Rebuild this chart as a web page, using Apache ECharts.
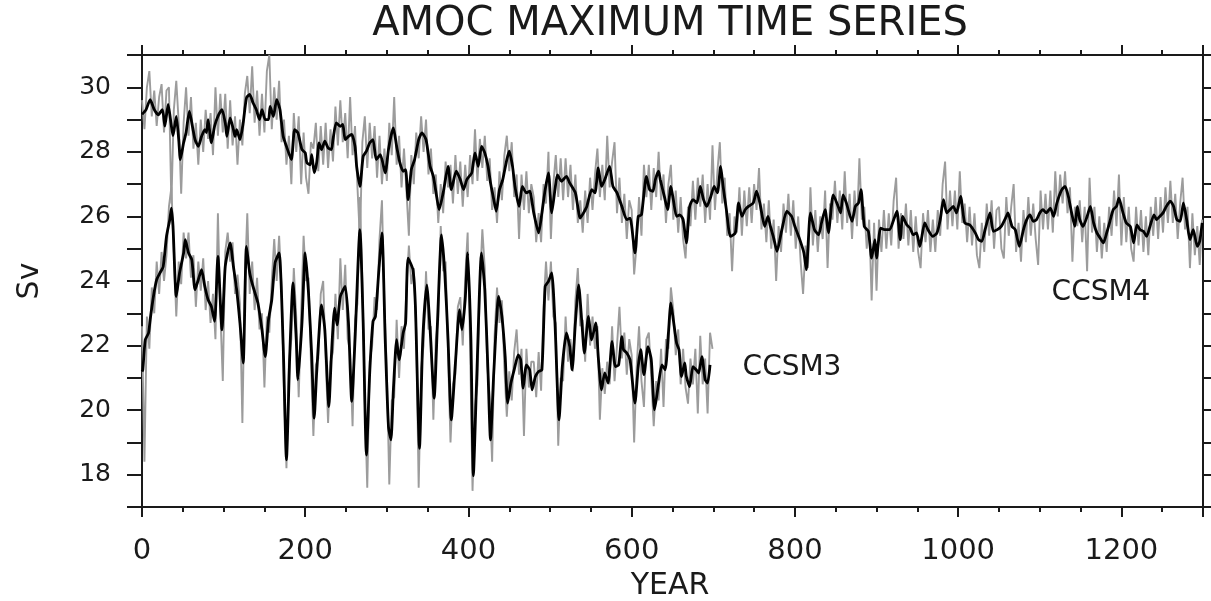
<!DOCTYPE html>
<html>
<head>
  <meta charset="utf-8">
  <title>AMOC maximum time series</title>
  <script src="https://cdn.jsdelivr.net/npm/echarts@6/dist/echarts.min.js"></script>
  <style>
    body { margin: 0; background: #fff; }
  </style>
</head>
<body>
<div id="main" style="width: 1211px;height:601px;"></div>
<script type="text/javascript">
  // raw (near annual) values, one every rawStep years starting at year 0
  var rawStep = 3;
  var ccsm4Raw = [
    29.6,28.7,30.0,30.5,29.1,29.9,28.8,29.7,30.1,28.6,
    29.9,30.0,26.4,29.3,30.2,28.9,26.7,28.9,30.0,28.5,
    29.7,28.1,28.9,27.6,29.0,28.0,29.3,28.4,29.2,27.9,
    30.0,28.5,29.8,28.6,29.8,28.1,29.6,28.2,29.1,27.6,
    29.0,28.2,29.8,30.35,29.2,30.65,28.9,29.9,28.5,29.8,
    28.6,30.5,31.0,28.7,30.0,29.0,30.2,28.3,29.0,27.6,
    28.5,27.0,29.2,28.0,29.1,27.0,28.6,27.2,26.7,28.3,
    28.1,28.9,27.4,28.8,27.6,28.9,27.5,28.7,27.7,29.4,
    28.2,29.6,28.3,29.2,27.8,29.7,27.9,28.8,26.9,25.3,
    28.3,29.1,27.5,28.9,27.8,28.8,27.2,28.5,27.0,28.1,
    27.1,28.9,27.9,29.7,27.6,28.5,26.9,28.1,26.8,25.4,
    27.9,27.0,28.6,27.8,29.1,28.0,29.0,27.3,28.1,26.7,
    27.3,25.8,27.0,26.1,27.7,26.9,27.6,26.4,27.9,26.7,
    27.7,26.3,27.6,26.6,27.9,27.0,28.7,27.1,28.4,27.5,
    28.5,27.1,27.8,26.2,26.9,25.8,27.4,26.5,27.9,28.5,
    27.4,28.3,26.6,27.3,25.3,27.3,26.2,27.4,26.1,27.0,
    26.6,25.2,26.1,25.2,27.0,26.4,28.0,25.3,27.0,27.9,
    26.6,27.8,26.5,27.8,26.6,27.6,26.2,27.3,25.8,26.5,
    25.5,26.8,25.8,27.2,26.2,27.3,28.1,26.6,27.6,26.5,
    28.5,26.9,27.7,28.3,26.1,27.2,25.8,26.7,25.3,26.5,
    26.2,24.2,25.1,26.6,25.4,27.6,26.6,27.6,26.2,27.5,
    26.6,28.0,26.5,27.3,25.8,27.0,27.6,25.9,26.8,25.5,
    26.6,25.3,24.7,26.3,25.7,27.1,25.9,27.2,26.3,27.3,
    25.8,27.0,25.9,28.2,26.2,27.4,28.3,26.4,27.2,25.4,
    26.1,24.3,26.0,25.5,26.9,25.4,26.8,25.7,26.9,25.8,
    27.0,26.2,27.5,25.6,26.4,25.2,26.5,25.0,25.9,24.0,
    25.7,24.9,26.4,25.5,26.7,25.4,26.5,25.0,26.0,24.6,
    23.6,25.1,24.4,26.9,25.1,26.2,24.9,26.0,25.3,26.8,
    24.4,26.4,25.9,27.1,25.8,26.8,25.6,27.4,25.8,26.7,
    25.3,26.8,25.7,27.8,25.9,26.3,25.0,25.9,23.4,25.8,
    23.7,25.9,24.9,26.2,25.0,26.1,25.1,26.5,27.2,25.0,
    26.1,25.3,26.4,25.1,26.2,24.9,26.0,24.9,24.4,26.1,
    25.2,26.2,24.9,25.9,24.9,26.2,25.4,27.0,27.7,25.6,
    26.8,25.7,26.8,25.6,27.4,25.8,26.4,25.2,26.3,25.1,
    26.1,24.8,24.4,25.8,24.9,26.4,25.4,26.5,25.0,26.2,
    26.3,25.0,24.7,26.6,25.4,26.3,27.0,24.9,25.8,24.6,
    26.2,25.2,26.6,25.4,26.4,25.3,24.5,26.8,25.6,26.7,
    25.6,26.8,25.5,27.4,26.0,27.3,26.4,27.4,26.1,26.9,
    24.6,26.3,25.7,26.5,25.2,26.3,24.3,27.2,25.5,26.3,
    24.9,26.0,24.7,25.8,24.9,26.3,25.4,26.8,25.7,27.3,
    25.1,26.6,25.2,26.3,25.0,24.6,26.3,25.1,26.2,24.9,
    26.0,24.8,26.3,25.4,26.6,25.3,26.6,25.5,26.9,25.8,
    27.1,25.8,26.7,25.3,26.4,27.2,25.6,26.3,24.4,26.1,
    24.8,25.7,24.5,25.9
  ];
  var ccsm3Raw = [
    22.6,18.4,22.9,21.9,23.8,23.0,24.6,23.6,24.9,24.0,
    24.8,26.3,26.9,24.9,22.9,24.6,23.9,25.5,24.7,25.5,
    24.1,24.8,23.2,24.6,23.7,24.7,23.1,24.0,22.7,23.6,
    22.2,26.1,23.0,20.9,24.9,25.5,24.6,25.2,23.6,24.2,
    23.3,19.6,24.0,26.1,23.6,24.6,23.1,24.1,22.5,23.0,
    20.7,22.9,22.4,24.0,25.3,24.0,25.4,23.8,20.6,18.2,
    21.5,22.2,24.4,22.9,20.4,23.0,25.4,24.0,24.1,21.5,
    19.2,21.4,21.6,23.6,24.0,21.6,19.6,21.5,21.8,23.6,
    22.2,24.7,23.1,24.5,22.2,21.8,19.5,22.8,23.3,26.6,
    24.0,20.3,17.6,21.5,22.0,23.5,23.1,25.3,26.5,23.3,
    21.2,17.7,20.3,20.4,22.8,21.0,22.6,21.9,23.8,25.1,
    23.9,24.4,22.5,17.6,21.3,22.0,24.3,22.5,22.6,19.7,
    22.2,22.8,25.7,24.3,24.6,21.7,19.0,20.8,21.1,23.2,
    23.5,22.0,24.1,25.5,22.0,17.5,20.1,20.8,23.9,25.6,
    24.4,21.4,20.4,18.4,22.3,23.8,22.7,23.4,21.3,19.8,
    21.2,20.3,21.8,22.5,21.1,21.9,19.2,21.9,20.7,21.5,
    21.5,20.4,21.8,20.6,23.2,24.6,23.4,24.6,22.9,22.7,
    18.9,21.0,20.9,22.9,21.5,22.2,21.2,23.4,24.4,22.6,
    22.8,21.5,23.6,22.0,22.9,21.9,22.6,19.7,21.3,20.5,
    21.5,20.8,22.6,20.9,22.0,23.2,21.6,22.4,21.1,22.2,
    21.7,19.0,21.3,22.6,20.9,20.1,22.2,22.4,21.0,19.5,
    20.9,20.3,21.9,20.1,22.2,21.9,23.8,23.1,21.7,22.5,
    20.8,21.9,20.7,20.2,21.6,20.8,21.9,19.9,22.3,20.8,
    21.6,19.9,22.4,21.9
  ];

  // smoothed curves, [year, Sv]
  var ccsm4Smooth = [
    [0,29.16],[5,29.31],[10,29.62],[15,29.31],[20,29.15],[25,29.31],[28,28.8],[32,29.47],[36,28.8],[38,28.5],
    [42,29.1],[45,28.38],[47,27.76],[51,28.28],[54,28.6],[58,29.26],[61,28.9],[65,28.38],[69,28.17],[73,28.48],
    [77,28.69],[79,28.6],[81,29.0],[85,28.28],[89,28.8],[93,29.1],[98,29.31],[102,28.9],[104,28.48],[108,29.05],
    [112,28.69],[114,28.48],[116,28.69],[120,28.38],[124,28.9],[128,29.67],[132,29.78],[136,29.52],[140,29.31],[144,29.0],
    [147,29.31],[151,29.0],[155,29.0],[157,29.41],[161,29.1],[165,29.62],[169,29.31],[173,28.48],[177,28.17],[183,27.76],
    [187,28.69],[191,28.59],[196,28.07],[200,27.97],[202,27.66],[206,27.6],[208,27.91],[211,27.35],[214,27.66],[217,28.28],
    [220,28.07],[224,28.33],[228,28.12],[232,28.07],[234,28.38],[238,28.9],[243,28.79],[246,28.85],[249,28.38],[253,28.48],
    [257,28.54],[261,28.17],[263,27.55],[267,26.93],[271,27.86],[275,28.02],[279,28.28],[283,28.38],[287,27.76],[292,27.91],
    [298,27.35],[302,28.07],[305,28.48],[308,28.74],[312,28.17],[316,27.66],[320,27.4],[323,27.45],[326,26.52],[330,27.45],
    [334,27.76],[339,28.38],[343,28.59],[348,28.38],[353,27.55],[357,27.24],[361,26.62],[364,26.21],[369,26.73],[375,27.55],
    [379,26.83],[385,27.4],[390,27.14],[394,26.83],[398,27.14],[404,27.35],[408,27.97],[412,27.55],[416,28.17],[420,27.97],
    [424,27.55],[427,27.04],[431,26.52],[434,26.16],[438,26.83],[442,27.14],[447,27.76],[450,28.02],[454,27.55],[457,26.93],
    [462,26.31],[466,26.93],[471,26.73],[475,26.78],[480,26.11],[486,25.49],[490,26.11],[494,26.83],[498,27.35],[502,26.11],
    [506,26.83],[509,27.29],[514,27.09],[520,27.24],[524,27.04],[531,26.73],[537,25.95],[541,26.11],[545,26.31],[551,26.83],
    [555,26.73],[559,27.5],[563,26.93],[567,27.14],[573,27.55],[577,26.93],[582,26.73],[588,26.31],[594,25.9],[598,25.95],
    [604,24.87],[608,26.0],[612,26.05],[618,27.24],[622,26.83],[626,26.78],[629,27.14],[633,27.4],[635,27.14],[640,26.62],
    [644,26.21],[648,26.93],[651,26.52],[655,26.0],[659,26.05],[663,25.9],[667,25.18],[671,26.31],[675,26.52],[680,26.42],
    [684,26.93],[688,26.52],[692,26.31],[697,26.62],[701,26.93],[705,26.73],[709,27.55],[712,26.93],[716,26.21],[721,25.38],
    [727,25.49],[731,26.42],[735,26.0],[739,26.21],[743,26.31],[749,26.42],[753,26.78],[757,26.42],[763,25.69],[767,26.0],
    [770,25.69],[774,25.33],[778,24.92],[784,25.59],[790,26.16],[796,26.0],[800,25.69],[806,25.28],[811,24.87],[814,24.35],
    [819,26.11],[824,25.59],[829,25.43],[833,25.85],[837,26.21],[841,25.49],[847,26.67],[853,26.31],[856,26.11],[859,26.67],
    [863,26.42],[870,25.85],[874,26.31],[878,26.42],[881,26.83],[885,25.69],[890,25.54],[894,24.71],[898,25.28],[900,24.71],
    [905,25.64],[910,25.59],[916,25.59],[921,25.9],[925,26.16],[929,25.28],[932,26.0],[937,25.74],[941,25.64],[945,25.43],
    [949,25.49],[953,25.07],[959,25.8],[963,25.59],[969,25.38],[974,25.49],[978,25.9],[982,26.52],[986,26.11],[990,26.21],
    [994,26.31],[998,26.11],[1003,26.62],[1008,25.8],[1014,25.74],[1021,25.49],[1025,25.28],[1029,25.23],[1033,25.59],[1039,26.11],
    [1043,25.54],[1048,25.59],[1053,25.7],[1059,26.0],[1061,26.11],[1066,25.69],[1070,25.59],[1075,25.07],[1080,25.59],[1084,25.9],
    [1088,26.05],[1092,25.85],[1096,25.9],[1100,26.11],[1104,26.21],[1108,26.11],[1113,26.26],[1117,26.0],[1121,26.42],[1127,26.83],
    [1131,26.93],[1135,26.62],[1139,26.11],[1143,25.69],[1146,26.31],[1149,25.9],[1153,25.69],[1158,26.0],[1162,26.31],[1166,25.8],
    [1170,25.49],[1174,25.33],[1178,25.18],[1182,25.49],[1186,25.85],[1190,26.21],[1194,26.31],[1197,26.57],[1202,26.11],[1206,25.8],
    [1211,25.69],[1215,25.18],[1219,25.74],[1223,25.59],[1227,25.54],[1231,25.38],[1235,25.69],[1240,26.05],[1243,25.9],[1247,26.0],
    [1251,26.11],[1255,26.31],[1260,26.47],[1264,26.31],[1268,25.9],[1272,25.85],[1276,26.42],[1280,25.9],[1284,25.28],[1288,25.59],
    [1293,25.07],[1296,25.23],[1299,25.8]
  ];
  var ccsm3Smooth = [
    [0,21.2],[1,21.25],[4,22.18],[8,22.39],[10,22.8],[14,23.52],[18,24.04],[22,24.25],[26,24.45],[30,25.38],
    [34,25.9],[36,26.26],[38,25.69],[42,23.52],[46,24.25],[51,24.87],[53,25.28],[57,24.87],[61,24.66],[65,23.73],
    [69,24.04],[73,24.35],[77,23.83],[81,23.42],[85,23.21],[89,22.75],[93,24.76],[98,22.49],[102,24.45],[108,25.18],
    [112,24.45],[116,23.73],[120,22.7],[124,21.46],[128,25.07],[132,24.25],[136,23.83],[142,23.32],[147,22.49],[151,21.66],
    [155,22.8],[159,23.42],[163,24.56],[168,24.87],[173,22.0],[177,18.46],[181,21.66],[185,23.94],[189,22.18],[191,20.94],
    [196,22.7],[200,24.87],[204,23.63],[208,21.66],[211,19.75],[214,21.15],[220,23.26],[224,22.49],[229,20.11],[232,21.66],
    [236,23.16],[239,22.64],[243,23.52],[249,23.83],[253,22.7],[257,20.27],[261,22.18],[267,25.59],[271,22.7],[275,18.61],
    [279,21.15],[283,22.75],[286,22.9],[290,24.25],[294,25.49],[298,22.18],[302,19.49],[305,19.08],[308,20.63],[312,22.18],
    [315,21.56],[320,22.39],[323,22.7],[326,24.71],[332,24.35],[335,23.21],[340,18.82],[344,22.18],[349,23.88],[353,22.49],
    [358,20.37],[362,22.7],[367,25.43],[371,24.25],[375,22.18],[379,19.7],[384,21.46],[389,23.11],[392,22.49],[396,23.42],
    [399,24.87],[403,22.18],[406,17.97],[410,20.9],[416,24.87],[420,23.73],[424,21.15],[427,19.08],[431,21.15],[437,23.52],
    [441,22.9],[445,21.66],[448,20.22],[452,20.84],[456,21.25],[461,21.71],[464,21.56],[467,20.68],[471,21.4],[475,21.25],
    [478,20.63],[482,21.04],[486,21.2],[490,21.25],[494,23.83],[498,23.99],[502,24.25],[506,22.7],[511,19.7],[515,21.35],
    [520,22.39],[524,21.98],[527,21.25],[531,22.7],[535,23.88],[539,22.7],[542,21.77],[547,22.9],[551,22.18],[556,22.7],
    [559,21.66],[563,20.63],[567,21.15],[571,20.84],[576,22.13],[580,21.35],[584,21.4],[588,22.28],[590,21.87],[594,21.77],
    [598,21.56],[604,20.22],[608,21.35],[611,21.87],[615,21.1],[620,21.97],[624,21.56],[628,20.01],[633,20.84],[637,21.4],
    [641,21.25],[645,22.39],[648,23.32],[651,22.8],[655,22.08],[658,21.87],[661,21.04],[665,21.46],[667,21.04],[671,20.73],
    [675,21.35],[679,21.25],[682,21.15],[686,21.66],[690,20.94],[693,20.84],[696,21.4]
  ];

  var font = 'DejaVu Sans, Liberation Sans, sans-serif';
  var ink = '#1a1a1a';

  function toPairs(vals) {
    return vals.map(function (v, i) { return [i * rawStep, v]; });
  }

  function xAxisDef(pos, interval, len, labels) {
    return {
      type: 'value', position: pos, min: 0, max: 1300, interval: interval,
      axisLine: { show: true, onZero: false, lineStyle: { color: ink, width: 2 } },
      axisTick: { show: true, length: len, lineStyle: { color: ink, width: 2 } },
      axisLabel: labels ? {
        margin: 30, fontSize: 29, color: ink, fontFamily: font,
        formatter: function (v) { return v % 200 === 0 ? String(v) : ''; }
      } : { show: false },
      splitLine: { show: false }
    };
  }

  var myChart = echarts.init(document.getElementById('main'));

  var option = {
    animation: false,
    backgroundColor: '#fff',
    grid: { left: 142, right: 8, top: 55, bottom: 94 },
    xAxis: [
      xAxisDef('bottom', 200, 10, true),
      xAxisDef('bottom', 50, 5, false),
      xAxisDef('top', 200, 10, false),
      xAxisDef('top', 50, 5, false)
    ],
    yAxis: [
      {
        type: 'value', position: 'left', min: 17, max: 31, interval: 1,
        axisLine: { show: true, onZero: false, lineStyle: { color: ink, width: 2 } },
        axisTick: { show: true, length: 15, lineStyle: { color: ink, width: 2 } },
        axisLabel: {
          margin: 31, fontSize: 25, color: ink, fontFamily: font,
          formatter: function (v) { return v % 2 === 0 ? String(v) : ''; }
        },
        splitLine: { show: false }
      },
      {
        type: 'value', position: 'right', min: 17, max: 31, interval: 1,
        axisLine: { show: true, onZero: false, lineStyle: { color: ink, width: 2 } },
        axisTick: { show: true, length: 8, lineStyle: { color: ink, width: 2 } },
        axisLabel: { show: false },
        splitLine: { show: false }
      }
    ],
    series: [
      {
        name: 'CCSM4 annual', type: 'line', data: toPairs(ccsm4Raw), showSymbol: false,
        lineStyle: { color: '#9c9c9c', width: 1.9 }, z: 2
      },
      {
        name: 'CCSM3 annual', type: 'line', data: toPairs(ccsm3Raw), showSymbol: false,
        lineStyle: { color: '#9c9c9c', width: 1.9 }, z: 2
      },
      {
        name: 'CCSM4', type: 'line', data: ccsm4Smooth, showSymbol: false, smooth: 0.2,
        lineStyle: { color: '#000', width: 2.8 }, z: 3
      },
      {
        name: 'CCSM3', type: 'line', data: ccsm3Smooth, showSymbol: false, smooth: 0.2,
        lineStyle: { color: '#000', width: 2.8 }, z: 3
      }
    ],
    graphic: [
      { type: 'text', x: 670, y: 25, style: { text: 'AMOC MAXIMUM TIME SERIES', font: '40px ' + font, fill: ink, align: 'center', verticalAlign: 'middle' } },
      { type: 'text', x: 670, y: 586, style: { text: 'YEAR', font: '30px ' + font, fill: ink, align: 'center', verticalAlign: 'middle' } },
      { type: 'text', x: 30, y: 281, rotation: Math.PI / 2, style: { text: 'Sv', font: '30px ' + font, fill: ink, align: 'center', verticalAlign: 'middle' } },
      { type: 'text', x: 1101, y: 293, style: { text: 'CCSM4', font: '28px ' + font, fill: ink, align: 'center', verticalAlign: 'middle' } },
      { type: 'text', x: 792, y: 368, style: { text: 'CCSM3', font: '28px ' + font, fill: ink, align: 'center', verticalAlign: 'middle' } }
    ]
  };

  myChart.setOption(option);
</script>
</body>
</html>
